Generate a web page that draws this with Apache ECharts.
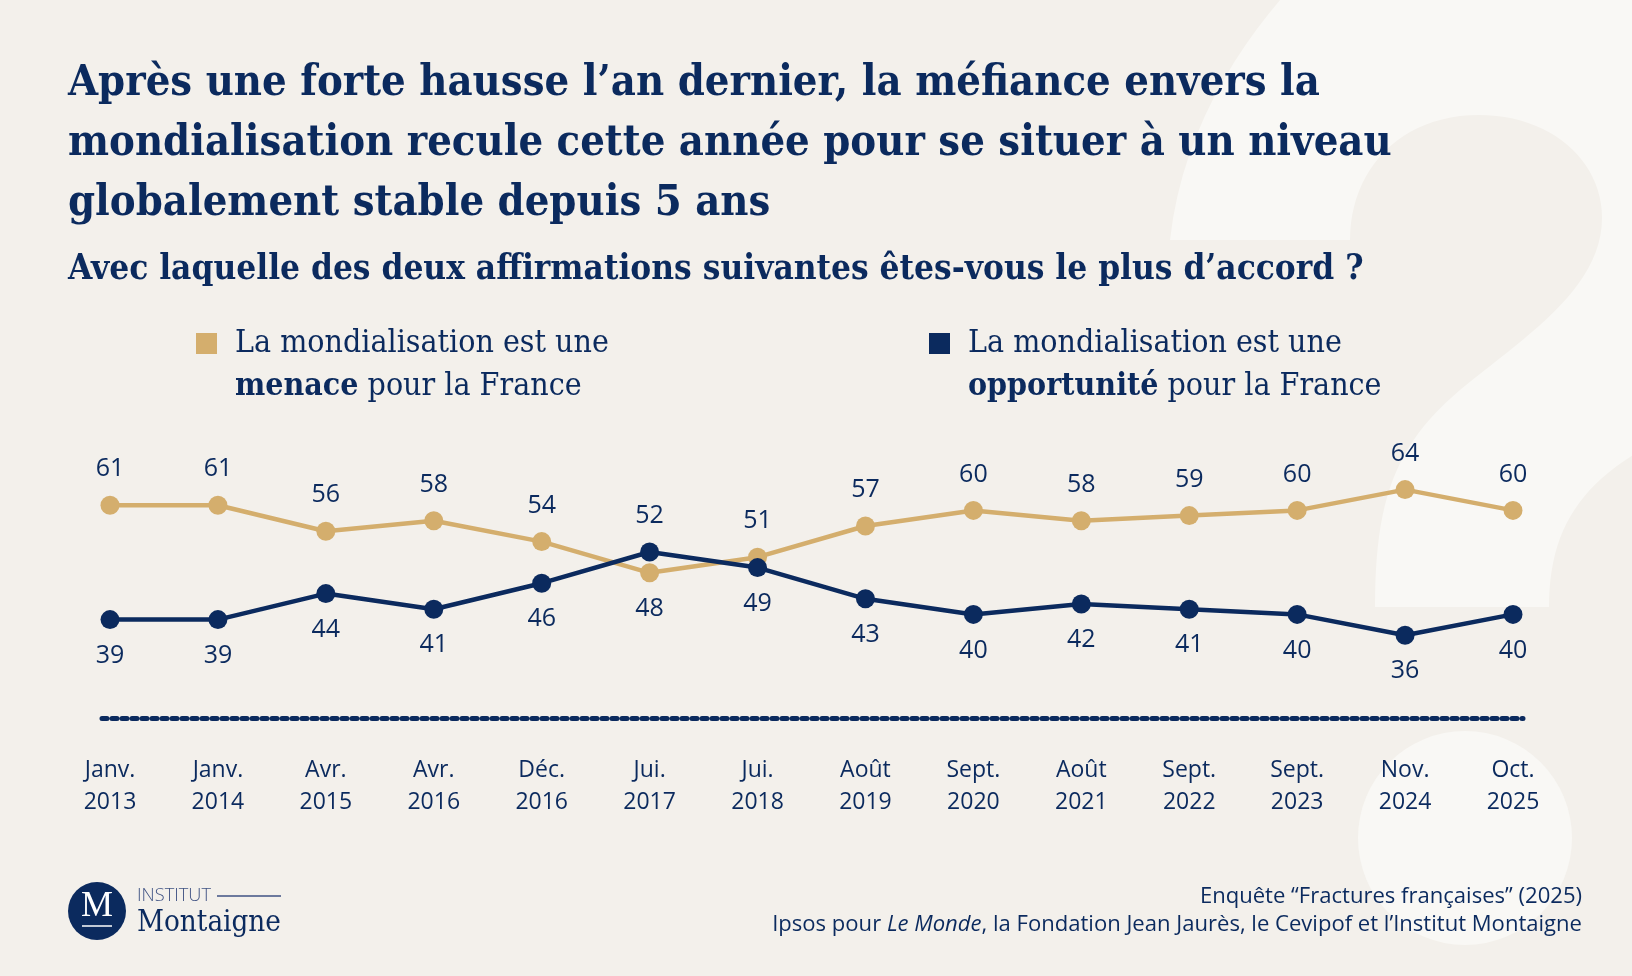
<!DOCTYPE html>
<html>
<head>
<meta charset="utf-8">
<style>
html,body{margin:0;padding:0;background:#f3f0eb;}
#chart{width:1632px;height:976px;}
</style>
<script src="https://cdn.jsdelivr.net/npm/echarts@6/dist/echarts.min.js"></script>
</head>
<body>
<div id="chart"></div>
<script>
// ---------- DATA ----------
const categories = ['Janv. 2013','Janv. 2014','Avr. 2015','Avr. 2016','Déc. 2016','Jui. 2017','Jui. 2018','Août 2019','Sept. 2020','Août 2021','Sept. 2022','Sept. 2023','Nov. 2024','Oct. 2025'];
const menace      = [61,61,56,58,54,48,51,57,60,58,59,60,64,60];
const opportunite = [39,39,44,41,46,52,49,43,40,42,41,40,36,40];
const titleLines = [
  'Après une forte hausse l’an dernier, la méfiance envers la',
  'mondialisation recule cette année pour se situer à un niveau',
  'globalement stable depuis 5 ans'
];
const subtitle = 'Avec laquelle des deux affirmations suivantes êtes-vous le plus d’accord ?';
const legendMenace = ['La mondialisation est une', 'menace', ' pour la France'];
const legendOpp    = ['La mondialisation est une', 'opportunité', ' pour la France'];
const source1 = 'Enquête “Fractures françaises” (2025)';
const source2 = ['Ipsos pour ', 'Le Monde', ', la Fondation Jean Jaurès, le Cevipof et l’Institut Montaigne'];
const logoSmall = 'INSTITUT';
const logoBig = 'Montaigne';

// ---------- STYLE ----------
const NAVY = '#0b2a5e';
const GOLD = '#d4ae6d';
const BG = '#f3f0eb';
const WM = '#f9f8f5';
const SANS = '"Open Sans", "Noto Sans", sans-serif';

const cv = document.createElement('canvas').getContext('2d');
function hasFont(f){
  cv.font = '100px monospace'; const a = cv.measureText('abcdefghijklmnopqrstuvwxyz').width;
  cv.font = '100px "' + f + '", monospace'; const b = cv.measureText('abcdefghijklmnopqrstuvwxyz').width;
  return Math.abs(a-b) > 1;
}
const SERIF_NAME = hasFont('DejaVu Serif Condensed') ? 'DejaVu Serif Condensed' : 'DejaVu Serif';
const SERIF = '"' + SERIF_NAME + '", "DejaVu Serif", serif';
function fit(text, weight, family, target){
  cv.font = weight + ' 100px ' + family;
  return 100 * target / cv.measureText(text).width;
}
const titleSize = fit(titleLines[1], 'bold', SERIF, 1324);
const subSize = fit(subtitle, 'bold', SERIF, 1296);
const legSize = fit(legendMenace[0], 'normal', SERIF, 374);
const srcSize = fit(source2.join(''), 'normal', SANS, 818);
const logoSmallSize = fit(logoSmall, '300', SANS, 74);
const logoBigSize = fit(logoBig, 'normal', SERIF, 144);

function legendFmt(parts){
  return '\n{r|' + parts[0] + '}\n{b|' + parts[1] + '}{r|' + parts[2] + '}';
}
const legRich = {
  r: {fontFamily: SERIF, fontSize: legSize, color: NAVY, lineHeight: 43},
  b: {fontFamily: SERIF, fontSize: legSize, fontWeight: 'bold', color: NAVY, lineHeight: 43}
};

function labelPos(a, b){ return a.map((v,i) => v >= b[i] ? 'top' : 'bottom'); }
const posM = labelPos(menace, opportunite);
const posO = labelPos(opportunite, menace);

function mkSeries(name, values, pos, color){
  return {
    name: name, type: 'line', data: values.map((v,i) => ({value: v, label: {position: pos[i]}})),
    symbol: 'circle', symbolSize: 19,
    lineStyle: {color: color, width: 4.5},
    itemStyle: {color: color},
    label: {show: true, distance: 14, color: NAVY, fontFamily: SANS, fontSize: 25},
    emphasis: {disabled: true},
    z: name === 'Opportunité' ? 3 : 2
  };
}

// watermark "?" outline (decoration) sampled from bezier segments
function bezierPoly(start, segs){
  const pts = [start];
  let p = start;
  segs.forEach(s => {
    if (s.length === 1) { pts.push(s[0]); p = s[0]; return; }
    const [c1, c2, e] = s;
    for (let k = 1; k <= 24; k++) {
      const t = k/24, u = 1-t;
      pts.push([u*u*u*p[0] + 3*u*u*t*c1[0] + 3*u*t*t*c2[0] + t*t*t*e[0],
                u*u*u*p[1] + 3*u*u*t*c1[1] + 3*u*t*t*c2[1] + t*t*t*e[1]]);
    }
    p = e;
  });
  return pts;
}
const wmPts = bezierPoly([1170,240], [
  [[1350,240]],
  [[1350,170],[1400,115],[1479,115]],
  [[1550,115],[1602,160],[1602,218]],
  [[1602,290],[1520,340],[1460,390]],
  [[1395,445],[1375,500],[1375,607]],
  [[1549,607]],
  [[1549,530],[1580,480],[1660,440]],
  [[1700,440]],
  [[1700,-130]],
  [[1420,-130]],
  [[1330,-60],[1190,60],[1170,240]]
]);

const chart = echarts.init(document.getElementById('chart'));
chart.setOption({
  backgroundColor: BG,
  animation: false,
  title: [
    {text: titleLines.join('\n'), left: 68, top: 54, padding: 0,
     textStyle: {fontFamily: SERIF, fontWeight: 'bold', fontSize: titleSize, lineHeight: 60, color: NAVY}},
    {text: subtitle, left: 68, top: 252, padding: 0,
     textStyle: {fontFamily: SERIF, fontWeight: 'bold', fontSize: subSize, lineHeight: 36, color: NAVY}}
  ],
  legend: [
    {data: ['Menace'], left: 196, top: 279, padding: 0, icon: 'rect', itemWidth: 21, itemHeight: 21,
     formatter: () => legendFmt(legendMenace), selectedMode: false,
     textStyle: {lineHeight: 43, fontSize: legSize, padding: [0,0,0,13], rich: legRich}},
    {data: ['Opportunité'], left: 929, top: 279, padding: 0, icon: 'rect', itemWidth: 21, itemHeight: 21,
     formatter: () => legendFmt(legendOpp), selectedMode: false,
     textStyle: {lineHeight: 43, fontSize: legSize, padding: [0,0,0,13], rich: legRich}}
  ],
  grid: [
    {left: 110, right: 119, top: 302.4, bottom: 257.6, containLabel: false},
    {left: 102, right: 109, top: 302.4, bottom: 257.6, containLabel: false}
  ],
  xAxis: [{
    type: 'category', data: categories, boundaryGap: false, gridIndex: 0,
    axisLine: {show: false},
    axisTick: {show: false},
    axisLabel: {margin: 36, color: NAVY, fontFamily: SANS, fontSize: 23, lineHeight: 32,
      formatter: v => v.replace(' ', '\n'), interval: 0}
  }, {
    type: 'value', gridIndex: 1, min: 0, max: 1, silent: true,
    axisLine: {show: true, lineStyle: {color: NAVY, width: 5, type: [5,5]}},
    axisTick: {show: false}, axisLabel: {show: false}, splitLine: {show: false}
  }],
  yAxis: [
    {type: 'value', min: 20, max: 100, show: false, splitLine: {show: false}, gridIndex: 0},
    {type: 'value', min: 0, max: 1, show: false, splitLine: {show: false}, gridIndex: 1}
  ],
  series: [
    mkSeries('Menace', menace, posM, GOLD),
    mkSeries('Opportunité', opportunite, posO, NAVY)
  ],
  graphic: [
    {type: 'polygon', silent: true, z: -10, shape: {points: wmPts}, style: {fill: WM}},
    {type: 'circle', silent: true, z: -10, shape: {cx: 1465, cy: 838, r: 107}, style: {fill: WM}},
    // logo
    {type: 'circle', shape: {cx: 97, cy: 911, r: 29}, style: {fill: NAVY}},
    {type: 'text', style: {x: 97, y: 907, text: 'M', align: 'center', verticalAlign: 'middle',
      fontFamily: '"Liberation Serif", serif', fontSize: 36, fill: '#ffffff'}},
    {type: 'line', shape: {x1: 82, y1: 926, x2: 112, y2: 926}, style: {stroke: '#ffffff', lineWidth: 1.5}},
    {type: 'text', style: {x: 137, y: 896, text: logoSmall, verticalAlign: 'middle',
      fontFamily: SANS, fontWeight: 300, fontSize: logoSmallSize, fill: '#3f5283'}},
    {type: 'line', shape: {x1: 217, y1: 896, x2: 281, y2: 896}, style: {stroke: '#3f5283', lineWidth: 1.3}},
    {type: 'text', style: {x: 137, y: 923, text: logoBig, verticalAlign: 'middle',
      fontFamily: SERIF, fontSize: logoBigSize, fill: NAVY}},
    // source
    {type: 'text', style: {x: 1582, y: 897, text: source1, align: 'right', verticalAlign: 'middle',
      fontFamily: SANS, fontSize: srcSize, fill: NAVY}},
    {type: 'text', style: {x: 1582, y: 925, align: 'right', verticalAlign: 'middle',
      text: source2[0] + '{i|' + source2[1] + '}' + source2[2],
      fontFamily: SANS, fontSize: srcSize, fill: NAVY,
      rich: {i: {fontStyle: 'italic', fontFamily: SANS, fontSize: srcSize, fill: NAVY}}}}
  ]
});
</script>
</body>
</html>
